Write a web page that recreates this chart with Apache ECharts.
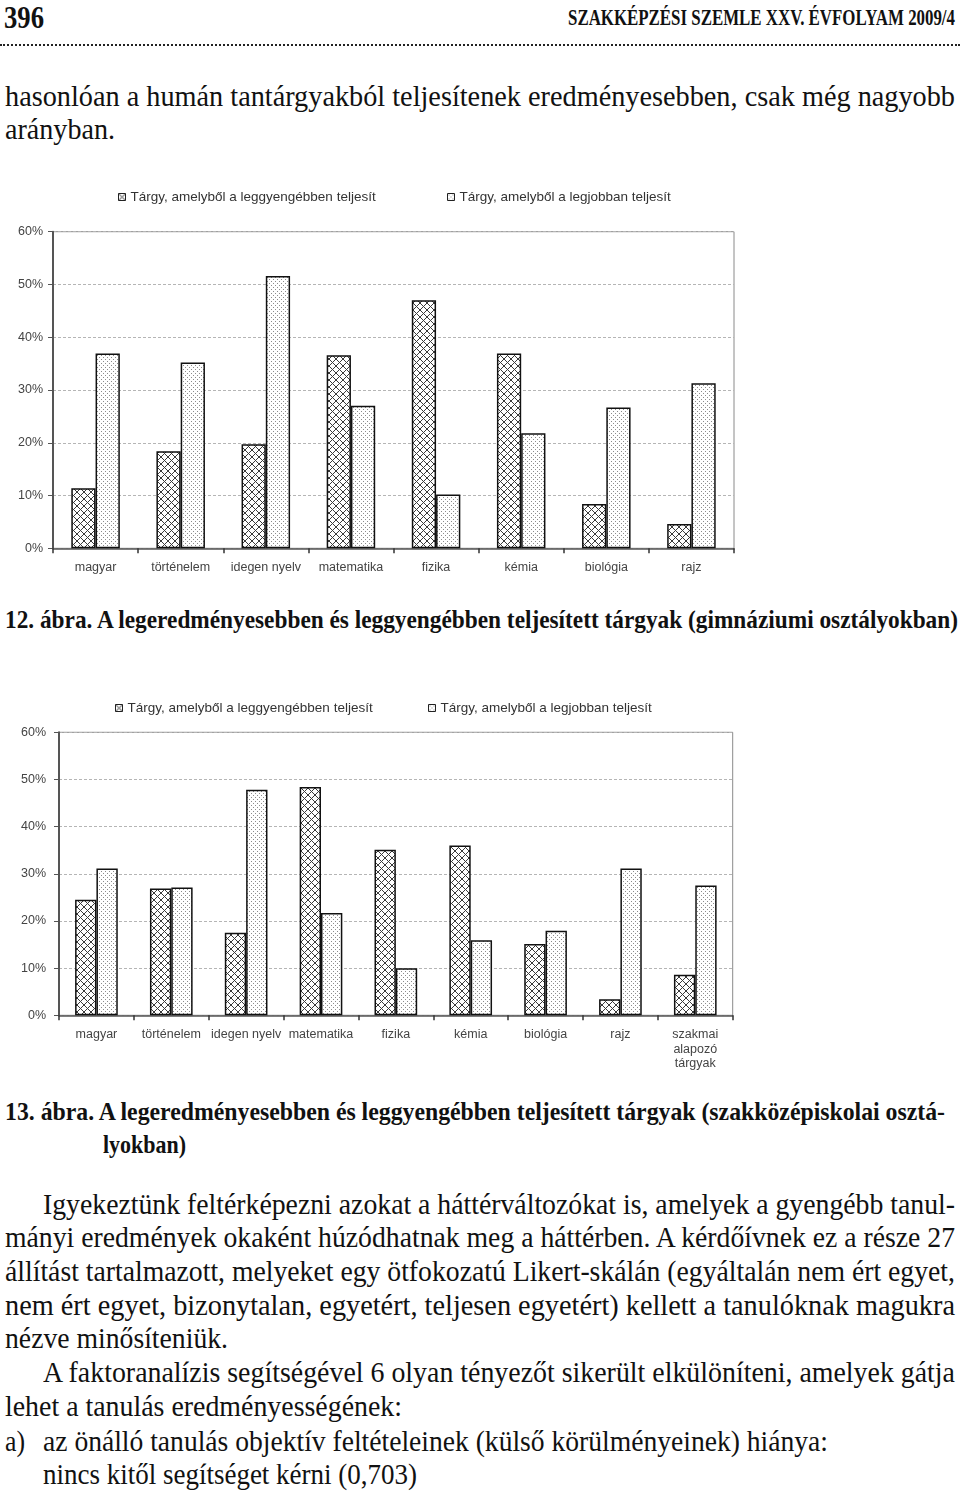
<!DOCTYPE html>
<html>
<head>
<meta charset="utf-8">
<script src="https://cdn.jsdelivr.net/npm/echarts@6/dist/echarts.min.js"></script>
<style>
  html, body { margin:0; padding:0; background:#fff; }
  body { width:960px; height:1491px; position:relative; overflow:hidden; }
  .ln { position:absolute; white-space:nowrap; font-family:"Liberation Serif","Times New Roman",serif; color:#111; transform-origin:0 0; line-height:32px; font-size:29px; }
  .b { font-weight:bold; }
  .cap { font-size:26px; font-weight:bold; }
  #dots { position:absolute; left:0; top:44px; width:960px; border-top:2px dotted #222; }
  .chart { position:absolute; left:0; width:960px; }
</style>
</head>
<body>
<div id="dots"></div>
<div id="c1" class="chart" style="top:170px;height:430px;"></div>
<div id="c2" class="chart" style="top:690px;height:400px;"></div>
<script>
// ---- data ----
const legendWeak = 'Tárgy, amelyből a leggyengébben teljesít';
const legendBest = 'Tárgy, amelyből a legjobban teljesít';
const categories1 = ['magyar', 'történelem', 'idegen nyelv', 'matematika', 'fizika', 'kémia', 'biológia', 'rajz'];
const weakest1 = [11.4, 18.4, 19.7, 36.6, 47.0, 36.9, 8.4, 4.6];
const best1 = [36.9, 35.2, 51.6, 27.0, 10.2, 21.8, 26.7, 31.3];
const categories2 = ['magyar', 'történelem', 'idegen nyelv', 'matematika', 'fizika', 'kémia', 'biológia', 'rajz', 'szakmai\nalapozó\ntárgyak'];
const weakest2 = [24.5, 26.9, 17.5, 48.4, 35.1, 36.0, 15.1, 3.4, 8.6];
const best2 = [31.1, 27.1, 47.8, 21.7, 10.0, 15.9, 17.9, 31.1, 27.5];
const yMin = 0, yMax = 60, yStep = 10;

// ---- page text lines: [text, left, top, targetWidth, class, fontSize] ----
const textLines = [
  ['396', 4, 0, 40, 'ln b', 32],
  ['SZAKKÉPZÉSI SZEMLE XXV. ÉVFOLYAM 2009/4', 568, 4, 387, 'ln b', 24],
  ['hasonlóan a humán tantárgyakból teljesítenek eredményesebben, csak még nagyobb', 5, 80, 950, 'ln'],
  ['arányban.', 5, 113, 110, 'ln'],
  ['12. ábra. A legeredményesebben és leggyengébben teljesített tárgyak (gimnáziumi osztályokban)', 5, 604, 953, 'ln cap'],
  ['13. ábra. A legeredményesebben és leggyengébben teljesített tárgyak (szakközépiskolai osztá-', 5, 1096, 940, 'ln cap'],
  ['lyokban)', 103, 1129, 83, 'ln cap'],
  ['Igyekeztünk feltérképezni azokat a háttérváltozókat is, amelyek a gyengébb tanul-', 43, 1188, 912, 'ln'],
  ['mányi eredmények okaként húzódhatnak meg a háttérben. A kérdőívnek ez a része 27', 5, 1221, 950, 'ln'],
  ['állítást tartalmazott, melyeket egy ötfokozatú Likert-skálán (egyáltalán nem ért egyet,', 5, 1255, 950, 'ln'],
  ['nem ért egyet, bizonytalan, egyetért, teljesen egyetért) kellett a tanulóknak magukra', 5, 1289, 950, 'ln'],
  ['nézve minősíteniük.', 5, 1322, 223, 'ln'],
  ['A faktoranalízis segítségével 6 olyan tényezőt sikerült elkülöníteni, amelyek gátja', 43, 1356, 912, 'ln'],
  ['lehet a tanulás eredményességének:', 5, 1390, 397, 'ln'],
  ['a)', 5, 1425, 20, 'ln'],
  ['az önálló tanulás objektív feltételeinek (külső körülményeinek) hiánya:', 43, 1425, 785, 'ln'],
  ['nincs kitől segítséget kérni (0,703)', 43, 1458, 374, 'ln']
];
textLines.forEach(([t, x, y, w, cls, fs]) => {
  const el = document.createElement('span');
  el.className = cls;
  el.textContent = t;
  el.style.left = x + 'px';
  el.style.top = y + 'px';
  if (fs) { el.style.fontSize = fs + 'px'; el.style.lineHeight = (fs + 2) + 'px'; }
  document.body.appendChild(el);
  const nat = el.getBoundingClientRect().width;
  el.style.transform = 'scaleX(' + (w / nat) + ')';
});

// ---- patterns ----
function crossHatch() {
  const s = 7;
  const c = document.createElement('canvas'); c.width = s; c.height = s;
  const g = c.getContext('2d');
  g.fillStyle = '#fff'; g.fillRect(0, 0, s, s);
  g.strokeStyle = '#3a3a3a'; g.lineWidth = 1;
  g.beginPath();
  g.moveTo(-1, -1); g.lineTo(s + 1, s + 1);
  g.moveTo(s + 1, -1); g.lineTo(-1, s + 1);
  g.stroke();
  return c;
}
function dotted() {
  const c = document.createElement('canvas'); c.width = 4; c.height = 4;
  const g = c.getContext('2d');
  g.fillStyle = '#fff'; g.fillRect(0, 0, 4, 4);
  g.fillStyle = '#8c8c8c';
  g.fillRect(1, 1, 1, 1);
  g.fillRect(3, 3, 1, 1);
  return c;
}
const weakFill = { image: crossHatch(), repeat: 'repeat' };
const bestFill = { image: dotted(), repeat: 'repeat' };

function makeOption(cats, weak, best, grid, legTop, leg1Left, leg2Left, yMargin, gap) {
  const sans = '"Liberation Sans", Arial, sans-serif';
  const legendBase = {
    top: legTop, itemWidth: 7, itemHeight: 7, icon: 'rect', padding: 0,
    textStyle: { fontFamily: sans, fontSize: 13.5, color: '#333' },
    itemStyle: { borderColor: '#222', borderWidth: 1 }
  };
  return {
    animation: false,
    backgroundColor: '#fff',
    legend: [
      Object.assign({}, legendBase, { left: leg1Left, data: [legendWeak] }),
      Object.assign({}, legendBase, { left: leg2Left, data: [legendBest] })
    ],
    grid: Object.assign({ show: true, borderColor: '#8a8a8a', borderWidth: 1, backgroundColor: '#fff' }, grid),
    xAxis: {
      type: 'category', data: cats,
      axisLine: { lineStyle: { color: '#555', width: 1.5 } },
      axisTick: { show: true, interval: 0, length: 5, lineStyle: { color: '#333', width: 1.5 } },
      axisLabel: { interval: 0, margin: 12, fontFamily: sans, fontSize: 12.5, color: '#444', lineHeight: 14.5 }
    },
    yAxis: {
      type: 'value', min: yMin, max: yMax, interval: yStep,
      axisLine: { show: true, lineStyle: { color: '#555', width: 2 } },
      axisTick: { show: true, length: 5, lineStyle: { color: '#555' } },
      axisLabel: { formatter: '{value}%', margin: yMargin, fontFamily: sans, fontSize: 12.5, color: '#444' },
      splitLine: { show: true, lineStyle: { color: '#b5b5b5', type: [3, 2], width: 1 } }
    },
    series: [
      { name: legendWeak, type: 'bar', data: weak, barGap: '0%', barCategoryGap: gap,
        itemStyle: { color: weakFill, borderColor: '#111', borderWidth: 1.5 } },
      { name: legendBest, type: 'bar', data: best, barGap: '0%', barCategoryGap: gap,
        itemStyle: { color: bestFill, borderColor: '#111', borderWidth: 1.5 } }
    ]
  };
}

const ch1 = echarts.init(document.getElementById('c1'), null, { renderer: 'canvas' });
ch1.setOption(makeOption(categories1, weakest1, best1,
  { left: 53, top: 61.7, width: 681, height: 316.6 }, 20, 118, 447, 10, '43%'));

const ch2 = echarts.init(document.getElementById('c2'), null, { renderer: 'canvas' });
ch2.setOption(makeOption(categories2, weakest2, best2,
  { left: 59, top: 42.3, width: 673.7, height: 283 }, 11, 115, 428, 13, '43%'));
</script>
</body>
</html>
